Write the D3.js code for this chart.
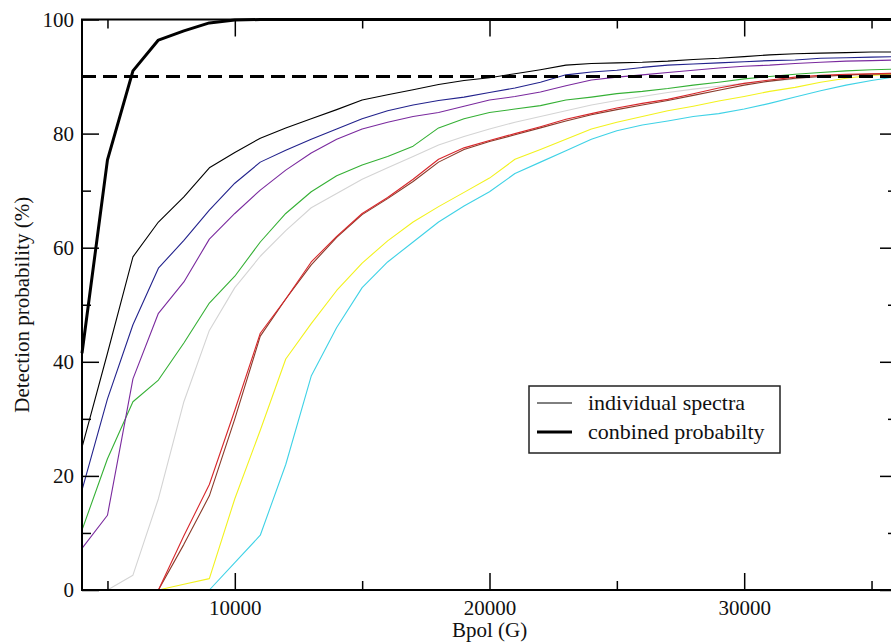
<!DOCTYPE html>
<html><head><meta charset="utf-8">
<script src="https://cdn.jsdelivr.net/npm/d3@7"></script>
<style>
html,body{margin:0;padding:0;background:#fff;}
svg{display:block;}
svg text{font-family:"Liberation Serif","Tinos","Times New Roman","Times","Nimbus Roman","DejaVu Serif",serif !important;fill:#111;}
</style></head>
<body><svg id="chart" width="891" height="643"></svg>
<script>
// ---- data ----
const bpol = [4000,5000,6000,7000,8000,9000,10000,11000,12000,13000,14000,15000,16000,17000,18000,19000,20000,21000,22000,23000,24000,25000,26000,27000,28000,29000,30000,31000,32000,33000,34000,35000,36000];
const combined = [41.5,75.4,91.0,96.4,98.0,99.4,99.9,100,100,100,100,100,100,100,100,100,100,100,100,100,100,100,100,100,100,100,100,100,100,100,100,100,100];
const specBlack  = [25,41.5,58.4,64.5,68.9,74.0,76.7,79.2,81.0,82.6,84.2,85.9,86.8,87.7,88.6,89.3,89.8,90.5,91.2,92.0,92.3,92.4,92.5,92.7,93.0,93.2,93.5,93.8,94.0,94.1,94.2,94.3,94.3];
const specBlue   = [17.5,33.5,46.5,56.4,61.3,66.6,71.3,75.0,77.1,79.0,80.8,82.6,84.0,85.0,85.8,86.4,87.2,88.0,89.0,90.3,90.8,91.1,91.6,92.0,92.2,92.4,92.6,92.8,92.9,93.2,93.3,93.4,93.5];
const specViolet = [7.3,13.1,37.0,48.5,54.0,61.5,66.0,70.1,73.6,76.6,79.0,80.8,82.0,83.0,83.7,84.8,85.9,86.5,87.3,88.4,89.4,89.9,90.3,90.7,91.1,91.5,91.8,92.0,92.3,92.5,92.7,92.8,92.9];
const specGreen  = [10.5,23.0,33.0,36.8,43.3,50.3,55.0,61.0,66.0,69.8,72.6,74.5,76.0,77.8,81.0,82.6,83.7,84.3,84.9,85.9,86.4,87.0,87.4,87.9,88.5,89.0,89.6,90.0,90.4,90.7,91.0,91.2,91.3];
const specGrey   = [0,0,2.6,16,33,45.5,53,58.5,63,67,69.5,72,74,76,78,79.5,80.8,82,83,84,85,85.8,86.5,87.2,87.8,88.3,88.8,89.2,89.6,90.0,90.2,90.5,90.6];
const specRed    = [0,0,0,0,9.5,18.5,31.5,45,51,57.5,62,66,68.8,72,75.5,77.5,78.8,80,81.2,82.5,83.5,84.5,85.3,86,87,88,88.8,89.4,89.9,90.2,90.4,90.5,90.6];
const specBrown  = [0,0,0,0,8,16.5,30,44.5,51,57,61.8,65.8,68.6,71.6,75,77.2,78.6,79.8,81,82.2,83.3,84.2,85,85.8,86.7,87.6,88.5,89.2,89.7,90.0,90.3,90.4,90.5];
const specYellow = [0,0,0,0,1,2,16,28,40.5,46.7,52.5,57.3,61.2,64.5,67.2,69.7,72.2,75.5,77.2,79,80.8,82,83,84,84.8,85.7,86.5,87.4,88.1,89,89.7,90.2,90.5];
const specCyan   = [0,0,0,0,0,0,4.8,9.6,22,37.5,46,53,57.5,61,64.5,67.3,69.8,73,75,77,79,80.5,81.5,82.2,83,83.5,84.3,85.3,86.4,87.5,88.5,89.3,90];
const threshold = 90;
const xMajorTicks = [10000,20000,30000];
const xMinorTicks = [5000,15000,25000,35000];
const yMajorTicks = [0,20,40,60,80,100];
const yMinorTicks = [10,30,50,70,90];
const legendLabels = ["individual spectra","conbined probabilty"];

const series = [
  {v: specGrey,   c: "#d4d4d4"},
  {v: specCyan,   c: "#3fd2e6"},
  {v: specYellow, c: "#f2f21e"},
  {v: specBrown,  c: "#8a3a2a"},
  {v: specRed,    c: "#d8262a"},
  {v: specGreen,  c: "#35b035"},
  {v: specViolet, c: "#7a2a9e"},
  {v: specBlue,   c: "#22228c"},
  {v: specBlack,  c: "#000000"}
];

const FONT = '"Liberation Serif", Tinos, "Times New Roman", Times, "Nimbus Roman", "DejaVu Serif", serif';

// ---- layout ----
const svg = d3.select("#chart");
const L = 82, R = 897, T = 19.5, B = 590;
const x = d3.scaleLinear().domain([4000,36000]).range([L,R]);
const y = d3.scaleLinear().domain([0,100]).range([B,T]);

const line = d3.line().x((d,i)=>x(bpol[i])).y(d=>y(d));

const g = svg.append("g");
series.forEach(s=>{
  g.append("path").datum(s.v).attr("d", line)
   .attr("fill","none").attr("stroke", s.c).attr("stroke-width",1.1)
   .attr("stroke-linejoin","round");
});

g.append("line").attr("x1",x(4000)).attr("x2",x(36000))
 .attr("y1",y(threshold)).attr("y2",y(threshold))
 .attr("stroke","#000").attr("stroke-width",3).attr("stroke-dasharray","14,7");

g.append("path").datum(combined).attr("d", line)
 .attr("fill","none").attr("stroke","#000").attr("stroke-width",3)
 .attr("stroke-linejoin","round");

// ---- axes ----
function styleAxis(sel){
  sel.attr("font-family", FONT);
  sel.select(".domain").remove();
  sel.selectAll("line").attr("stroke","#000").attr("stroke-width",1.5);
}

svg.append("g").attr("transform",`translate(0,${B})`)
  .call(d3.axisBottom(x).tickValues(xMajorTicks).tickSize(-17).tickPadding(10).tickFormat(d3.format("d")))
  .call(styleAxis)
  .call(s=>s.selectAll("text").attr("font-size",21).attr("fill","#111"));
svg.append("g").attr("transform",`translate(0,${B})`)
  .call(d3.axisBottom(x).tickValues(xMinorTicks).tickSize(-9).tickFormat(""))
  .call(styleAxis);
svg.append("g").attr("transform",`translate(0,${T})`)
  .call(d3.axisTop(x).tickValues(xMajorTicks).tickSize(-17).tickFormat(""))
  .call(styleAxis);
svg.append("g").attr("transform",`translate(0,${T})`)
  .call(d3.axisTop(x).tickValues(xMinorTicks).tickSize(-9).tickFormat(""))
  .call(styleAxis);

svg.append("g").attr("transform",`translate(${L},0)`)
  .call(d3.axisLeft(y).tickValues(yMajorTicks).tickSize(-17).tickPadding(8).tickFormat(d3.format("d")))
  .call(styleAxis)
  .call(s=>s.selectAll("text").attr("font-size",21).attr("fill","#111"));
svg.append("g").attr("transform",`translate(${L},0)`)
  .call(d3.axisLeft(y).tickValues(yMinorTicks).tickSize(-9).tickFormat(""))
  .call(styleAxis);
svg.append("g").attr("transform",`translate(${R},0)`)
  .call(d3.axisRight(y).tickValues(yMajorTicks).tickSize(-17).tickFormat(""))
  .call(styleAxis);
svg.append("g").attr("transform",`translate(${R},0)`)
  .call(d3.axisRight(y).tickValues(yMinorTicks).tickSize(-9).tickFormat(""))
  .call(styleAxis);

svg.append("rect").attr("x",L).attr("y",T).attr("width",R-L).attr("height",B-T)
  .attr("fill","none").attr("stroke","#000").attr("stroke-width",2);

// axis titles
svg.append("text").attr("x",x(20000)).attr("y",637).attr("text-anchor","middle")
  .attr("font-family",FONT).attr("font-size",21).text("Bpol (G)");
svg.append("text").attr("transform",`translate(29,${(T+B)/2}) rotate(-90)`)
  .attr("text-anchor","middle").attr("font-family",FONT).attr("font-size",21).text("Detection probability (%)");

// legend
const lg = svg.append("g").attr("font-family",FONT);
lg.append("rect").attr("x",529).attr("y",386).attr("width",251).attr("height",67)
  .attr("fill","#fff").attr("stroke","#222").attr("stroke-width",1.5);
lg.append("line").attr("x1",537).attr("x2",572).attr("y1",403).attr("y2",403)
  .attr("stroke","#000").attr("stroke-width",1);
lg.append("line").attr("x1",537).attr("x2",572).attr("y1",432).attr("y2",432)
  .attr("stroke","#000").attr("stroke-width",3);
lg.append("text").attr("x",588).attr("y",410).attr("font-size",22).text(legendLabels[0]);
lg.append("text").attr("x",588).attr("y",439).attr("font-size",22).text(legendLabels[1]);
</script></body></html>
